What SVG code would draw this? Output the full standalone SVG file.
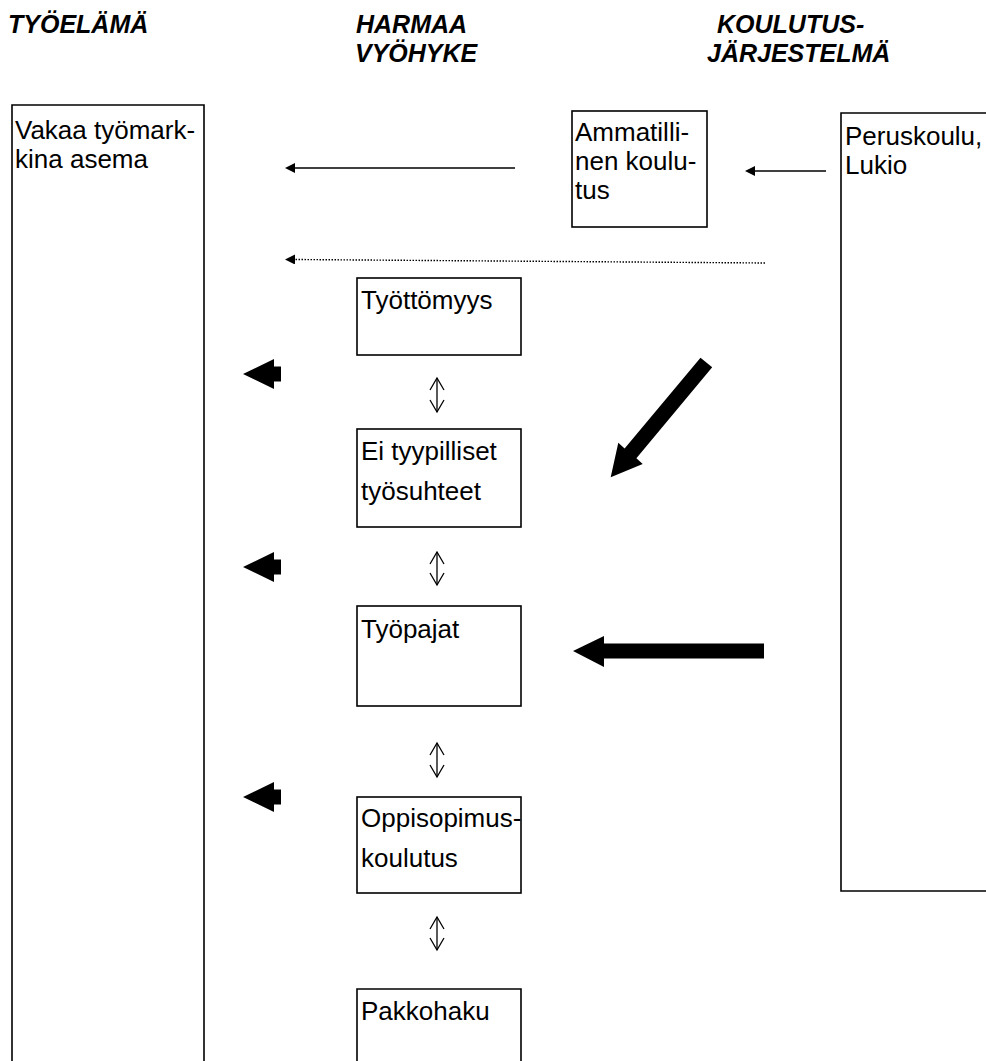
<svg xmlns="http://www.w3.org/2000/svg" width="986" height="1061" viewBox="0 0 986 1061">
<style>
.h{font-family:"Liberation Sans",Arial,sans-serif;font-size:25px;font-weight:bold;font-style:italic;fill:#000}
.t{font-family:"Liberation Sans",Arial,sans-serif;font-size:26px;fill:#000}
.box{fill:#fff;stroke:#000;stroke-width:1.6}
.thin{fill:none;stroke:#000;stroke-width:1.5}
.dot{fill:none;stroke:#000;stroke-width:1.4;stroke-dasharray:1.5 1.5}
.dbl{fill:none;stroke:#000;stroke-width:1.3}
.blk{fill:#000;stroke:none}
</style>
<defs>
<marker id="ah" viewBox="0 0 10 10" refX="0" refY="5" markerWidth="10" markerHeight="10" markerUnits="userSpaceOnUse" orient="auto-start-reverse">
<path d="M0,0 L10,5 L0,10 Z" fill="#000"/>
</marker>
</defs>
<rect width="986" height="1061" fill="#fff"/>
<g id="headers">
<text class="h" x="8" y="33">TYÖELÄMÄ</text>
<text class="h" x="356" y="33">HARMAA</text>
<text class="h" x="355" y="62">VYÖHYKE</text>
<text class="h" x="717" y="33">KOULUTUS-</text>
<text class="h" x="707" y="62">JÄRJESTELMÄ</text>
</g>
<g id="tyoelama">
<path class="box" d="M12,1062 V105 H204 V1062"/>
<text class="t" x="15" y="139">Vakaa työmark-</text>
<text class="t" x="15" y="168">kina asema</text>
</g>
<g id="peruskoulu">
<path class="box" d="M987,113 H841 V891 H987"/>
<text class="t" x="845" y="145">Peruskoulu,</text>
<text class="t" x="845" y="174">Lukio</text>
</g>
<g id="ammatillinen">
<rect class="box" x="572" y="111" width="135" height="116"/>
<text class="t" x="575" y="141">Ammatilli-</text>
<text class="t" x="575" y="170">nen koulu-</text>
<text class="t" x="575" y="199">tus</text>
</g>
<g id="tyottomyys">
<rect class="box" x="357" y="278" width="164" height="77"/>
<text class="t" x="361" y="309">Työttömyys</text>
</g>
<g id="eityypilliset">
<rect class="box" x="357" y="429" width="164" height="98"/>
<text class="t" x="361" y="460">Ei tyypilliset</text>
<text class="t" x="361" y="500">työsuhteet</text>
</g>
<g id="tyopajat">
<rect class="box" x="357" y="606" width="164" height="100"/>
<text class="t" x="361" y="638">Työpajat</text>
</g>
<g id="oppisopimus">
<rect class="box" x="357" y="797" width="164" height="96"/>
<text class="t" x="361" y="827">Oppisopimus-</text>
<text class="t" x="361" y="867">koulutus</text>
</g>
<g id="pakkohaku">
<path class="box" d="M357,1062 V989 H521 V1062"/>
<text class="t" x="361" y="1020">Pakkohaku</text>
</g>
<g id="connectors">
<line class="thin" x1="515" y1="168" x2="295" y2="168" marker-end="url(#ah)"/>
<line class="thin" x1="826" y1="171" x2="755" y2="171" marker-end="url(#ah)"/>
<line class="dot" x1="765" y1="263" x2="295" y2="259.5" marker-end="url(#ah)"/>
<polyline class="dbl" points="430,390 437,378 444,390"/>
<line class="dbl" x1="437" y1="378" x2="437" y2="412"/>
<polyline class="dbl" points="430,400 437,412 444,400"/>
<polyline class="dbl" points="430,564 437,552 444,564"/>
<line class="dbl" x1="437" y1="552" x2="437" y2="585"/>
<polyline class="dbl" points="430,573 437,585 444,573"/>
<polyline class="dbl" points="430,755 437,743 444,755"/>
<line class="dbl" x1="437" y1="743" x2="437" y2="777"/>
<polyline class="dbl" points="430,765 437,777 444,765"/>
<polyline class="dbl" points="430,929 437,917 444,929"/>
<line class="dbl" x1="437" y1="917" x2="437" y2="950"/>
<polyline class="dbl" points="430,938 437,950 444,938"/>
<polygon class="blk" points="243,374 274,359 274,366.5 281,366.5 281,381.5 274,381.5 274,389"/>
<polygon class="blk" points="243,567 274,552 274,559.5 281,559.5 281,574.5 274,574.5 274,582"/>
<polygon class="blk" points="243,797 274,782 274,789.5 281,789.5 281,804.5 274,804.5 274,812"/>
<polygon class="blk" points="573,651 604,636 604,643.5 764,643.5 764,658.5 604,658.5 604,667"/>
<polygon class="blk" points="700.5,357.7 712.2,367.3 636.4,458.2 642.7,464 610.7,477.3 618.3,442.7 624.6,448.5"/>
</g>
</svg>
